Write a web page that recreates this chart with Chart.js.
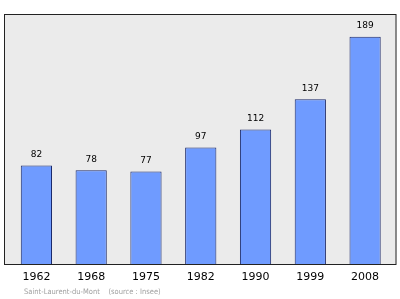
<!DOCTYPE html>
<html>
<head>
<meta charset="utf-8">
<script src="https://cdn.jsdelivr.net/npm/chart.js@4"></script>
<style>
  body { margin: 0; background: #fff; }
  #wrap { width: 400px; height: 299px; }
</style>
</head>
<body>
<div id="wrap"><canvas id="chart" width="400" height="299"></canvas></div>
<script>
const years = ['1962', '1968', '1975', '1982', '1990', '1999', '2008'];
const population = [82, 78, 77, 97, 112, 137, 189];
const yMax = 208;
const footer = 'Saint-Laurent-du-Mont    (source : Insee)';

// frame, value labels and footer
const decor = {
    id: 'decor',
    beforeDatasetsDraw(chart) {
        const { ctx, chartArea: a } = chart;
        ctx.save();
        ctx.fillStyle = '#ebebeb';
        ctx.fillRect(a.left - 5, a.top, a.right - a.left + 9, a.bottom - a.top);
        ctx.restore();
    },
    afterDatasetsDraw(chart) {
        const { ctx, chartArea: a } = chart;
        ctx.save();
        ctx.strokeStyle = '#222';
        ctx.lineWidth = 1;
        ctx.strokeRect(a.left - 4.5, a.top + 0.5, a.right - a.left + 8, a.bottom - a.top);

        ctx.fillStyle = '#000';
        ctx.font = '9px "DejaVu Sans"';
        ctx.textAlign = 'center';
        ctx.textBaseline = 'middle';
        chart.getDatasetMeta(0).data.forEach((bar, i) => {
            ctx.fillText(population[i], bar.x, bar.y - 11);
        });

        ctx.fillStyle = '#a0a0a0';
        ctx.font = '7.5px "DejaVu Sans Condensed"';
        ctx.textAlign = 'left';
        ctx.fillText(footer, 24, 292);
        ctx.restore();
    }
};

new Chart(document.getElementById('chart').getContext('2d'), {
    type: 'bar',
    data: {
        labels: years,
        datasets: [{
            data: population,
            backgroundColor: '#6f9bff',
            borderColor: '#1c2a6a',
            borderWidth: 1,
            categoryPercentage: 1,
            barPercentage: 0.57
        }]
    },
    options: {
        responsive: false,
        animation: false,
        events: [],
        layout: { padding: { left: 9, right: 7.5, top: 14, bottom: 0 } },
        plugins: {
            legend: { display: false },
            tooltip: { enabled: false }
        },
        scales: {
            x: {
                grid: { display: false, drawTicks: false },
                border: { display: false },
                ticks: { color: '#000', font: { family: 'DejaVu Sans', size: 11 }, padding: 7, maxRotation: 0 },
                afterFit(scale) { scale.height = 35; }
            },
            y: {
                display: false,
                min: 0,
                max: yMax
            }
        }
    },
    plugins: [decor]
});
</script>
</body>
</html>
